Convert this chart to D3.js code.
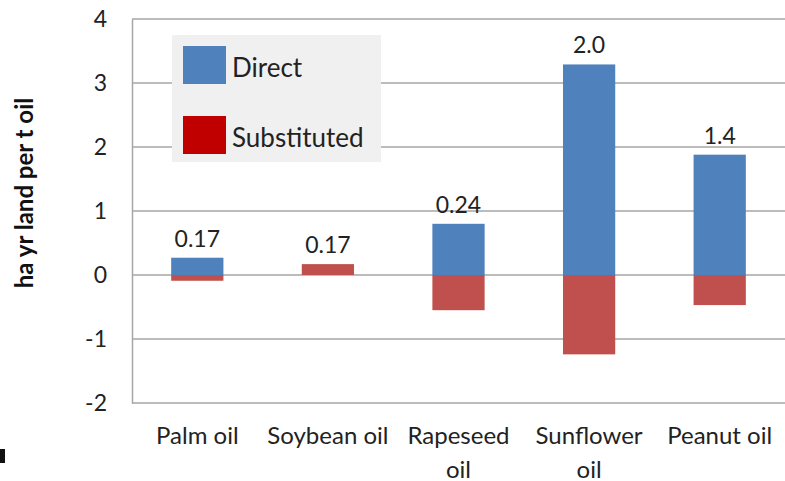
<!DOCTYPE html>
<html>
<head>
<meta charset="utf-8">
<script src="https://cdn.jsdelivr.net/npm/d3@7"></script>
<style>
  body { margin: 0; background: #fff; }
  svg { display: block; font-family: Lato, "Open Sans", sans-serif; }
</style>
</head>
<body>
<div class="chart"></div>
<script>
// values (ha yr land per t oil)
var categories = ["Palm oil", "Soybean oil", "Rapeseed oil", "Sunflower oil", "Peanut oil"];
var categoryLines = [["Palm oil"], ["Soybean oil"], ["Rapeseed", "oil"], ["Sunflower", "oil"], ["Peanut oil"]];
var direct = [0.27, 0, 0.80, 3.29, 1.88];
var substituted = [-0.09, 0.17, -0.55, -1.24, -0.47];
var netLabels = ["0.17", "0.17", "0.24", "2.0", "1.4"];
var yTicks = [-2, -1, 0, 1, 2, 3, 4];
var seriesNames = ["Direct", "Substituted"];

var width = 785, height = 481;
var plotLeft = 132, plotRight = 785, plotTop = 19, plotBottom = 403;

var svg = d3.select(".chart")
  .append("svg")
    .attr("width", width)
    .attr("height", height);

var x = d3.scaleBand()
  .domain(categories)
  .range([plotLeft, plotRight])
  .paddingInner(0.6)
  .paddingOuter(0.3);

var y = d3.scaleLinear()
  .domain([-2, 4])
  .range([plotBottom, plotTop]);

// gridlines
svg.append("g")
  .selectAll("line")
  .data(yTicks)
  .join("line")
    .attr("x1", plotLeft)
    .attr("x2", plotRight)
    .attr("y1", function(d) { return y(d); })
    .attr("y2", function(d) { return y(d); })
    .attr("stroke", "#a6a6a6")
    .attr("stroke-width", 1.5);

// y axis (plain hyphen for negatives, like the original)
var yAxis = svg.append("g")
  .attr("transform", "translate(" + plotLeft + ",0)")
  .call(d3.axisLeft(y).tickValues(yTicks).tickSize(0).tickPadding(25).tickFormat(function(d) { return String(d); }));
yAxis.select(".domain").attr("stroke", "#a6a6a6").attr("stroke-width", 1.5);
yAxis.selectAll("text")
  .attr("fill", "#222")
  .style("font-family", "Lato, sans-serif")
  .style("font-size", "23px");

// bars
var rows = categories.map(function(c, i) {
  return { cat: c, direct: direct[i], sub: substituted[i] };
});

svg.append("g")
  .selectAll("rect")
  .data(rows)
  .join("rect")
    .attr("x", function(d) { return x(d.cat); })
    .attr("width", x.bandwidth())
    .attr("y", function(d) { return y(Math.max(d.direct, 0)); })
    .attr("height", function(d) { return Math.abs(y(0) - y(d.direct)); })
    .attr("fill", "#4f81bd");

svg.append("g")
  .selectAll("rect")
  .data(rows)
  .join("rect")
    .attr("x", function(d) { return x(d.cat); })
    .attr("width", x.bandwidth())
    .attr("y", function(d) { return d.sub > 0 ? y(d.direct + d.sub) : y(0); })
    .attr("height", function(d) { return Math.abs(y(0) - y(d.sub)); })
    .attr("fill", "#c0504d");

// net value labels
svg.append("g")
  .selectAll("text")
  .data(rows)
  .join("text")
    .attr("x", function(d) { return x(d.cat) + x.bandwidth() / 2; })
    .attr("y", function(d) { return y(Math.max(d.direct, 0) + Math.max(d.sub, 0)) - 11; })
    .attr("text-anchor", "middle")
    .attr("fill", "#222")
    .style("font-size", "23px")
    .text(function(d, i) { return netLabels[i]; });

// category labels
var cats = svg.append("g")
  .selectAll("text")
  .data(categories)
  .join("text")
    .attr("x", function(d) { return x(d) + x.bandwidth() / 2; })
    .attr("y", 444)
    .attr("text-anchor", "middle")
    .attr("fill", "#222")
    .style("font-size", "24px");
cats.selectAll("tspan")
  .data(function(d, i) { return categoryLines[i]; })
  .join("tspan")
    .attr("x", function() { return d3.select(this.parentNode).attr("x"); })
    .attr("dy", function(d, i) { return i === 0 ? 0 : 34; })
    .text(function(d) { return d; });

// y title
svg.append("text")
  .attr("transform", "translate(33,193) rotate(-90)")
  .attr("text-anchor", "middle")
  .attr("fill", "#111")
  .style("font-size", "24px")
  .style("font-weight", "bold")
  .text("ha yr land per t oil");

// legend
var legend = svg.append("g");
legend.append("rect")
  .attr("x", 172)
  .attr("y", 35)
  .attr("width", 209)
  .attr("height", 127)
  .attr("fill", "#f0f0f0");

legend.selectAll("rect.swatch")
  .data(seriesNames)
  .join("rect")
    .attr("class", "swatch")
    .attr("x", 183)
    .attr("y", function(d, i) { return 46 + i * 70; })
    .attr("width", 43)
    .attr("height", 38)
    .attr("fill", function(d, i) { return i === 0 ? "#4f81bd" : "#c00000"; });

legend.selectAll("text")
  .data(seriesNames)
  .join("text")
    .attr("x", 232)
    .attr("y", function(d, i) { return 77 + i * 70; })
    .attr("fill", "#222")
    .style("font-size", "26px")
    .text(function(d) { return d; });

// small dark mark in the lower-left corner of the picture
svg.append("rect")
  .attr("x", 0)
  .attr("y", 449)
  .attr("width", 5)
  .attr("height", 14)
  .attr("fill", "#111");
</script>
</body>
</html>
